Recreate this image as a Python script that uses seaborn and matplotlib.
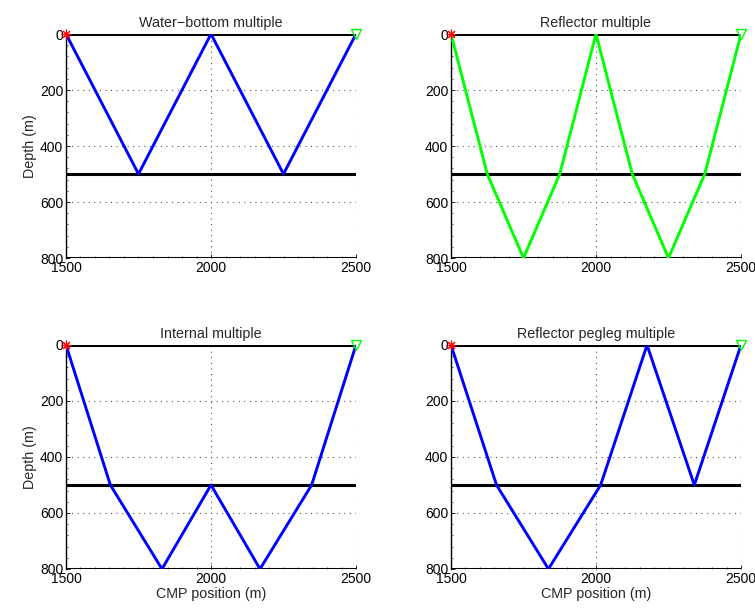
import matplotlib
matplotlib.use("Agg")
import matplotlib.pyplot as plt
import seaborn as sns
import pandas as pd
from matplotlib.ticker import MultipleLocator

titles = ["Water\u2212bottom multiple", "Reflector multiple",
          "Internal multiple", "Reflector pegleg multiple"]

wb_x = [1500, 1750, 2000, 2250, 2500]
wb_z = [0, 500, 0, 500, 0]

rm_x = [1500, 1625, 1750, 1875, 2000, 2125, 2250, 2375, 2500]
rm_z = [0, 500, 800, 500, 0, 500, 800, 500, 0]

im_x = [1500, 1653, 1831, 2000, 2169, 2347, 2500]
im_z = [0, 500, 800, 500, 800, 500, 0]

pl_x = [1500, 1657, 1836, 2016, 2176, 2339, 2500]
pl_z = [0, 500, 800, 500, 0, 500, 0]

ray_colors = ["#0000ff", "#00ff00", "#0000ff", "#0000ff"]
interfaces = [0, 500, 800]
source_x, receiver_x = 1500, 2500
xticks = [1500, 2000, 2500]
yticks = [0, 200, 400, 600, 800]

sns.set_style("white")
plt.rcParams["font.family"] = ["Liberation Sans", "DejaVu Sans"]

fig = plt.figure(figsize=(7.55, 6.1), dpi=100)
W, H = 755, 610
boxes = [(66, 34), (451, 34), (66, 345), (451, 345)]
aw, ah = 290, 224

rays = [(wb_x, wb_z), (rm_x, rm_z), (im_x, im_z), (pl_x, pl_z)]

for i, ((x0, y0), (rx, rz)) in enumerate(zip(boxes, rays)):
    ax = fig.add_axes([x0 / W, 1 - (y0 + ah) / H, aw / W, ah / H])
    ax.set_xlim(1500, 2500)
    ax.set_ylim(800, 0)
    ax.set_xticks(xticks)
    ax.set_yticks(yticks)
    ax.xaxis.set_minor_locator(MultipleLocator(50))
    ax.yaxis.set_minor_locator(MultipleLocator(40))
    ax.grid(True, which="major", linestyle=(0, (1, 4)), color="#555555", linewidth=0.8)
    for z in interfaces:
        df_i = pd.DataFrame({"x": [1500, 2500], "z": [z, z]})
        sns.lineplot(data=df_i, x="x", y="z", ax=ax, color="black", linewidth=2.2, sort=False, zorder=3)
    df = pd.DataFrame({"x": rx, "z": rz})
    sns.lineplot(data=df, x="x", y="z", ax=ax, color=ray_colors[i], linewidth=2.1, sort=False, zorder=4)
    ax.plot([source_x], [0], marker=(8, 2, 0), color="red", markersize=7, markeredgewidth=0.8,
            linestyle="none", zorder=5, clip_on=False)
    ax.plot([receiver_x], [0], marker="v", markerfacecolor="none", markeredgecolor="#00ff00",
            markersize=7, markeredgewidth=1.0, linestyle="none", zorder=5, clip_on=False)
    for s in ["top", "right", "bottom"]:
        ax.spines[s].set_visible(False)
    ax.spines["left"].set_color("black")
    ax.spines["left"].set_linewidth(1.0)
    ax.tick_params(axis="both", which="major", direction="in", length=3, width=0.6,
                   labelsize=10, pad=2, colors="black", left=True, bottom=True)
    ax.tick_params(axis="both", which="minor", direction="in", length=1.5, width=0.5,
                   left=True, bottom=True)
    ax.set_title(titles[i], fontsize=10.3, pad=5)
    ax.set_xlabel("CMP position (m)" if i >= 2 else "", fontsize=10.3, labelpad=1)
    ax.set_ylabel("Depth (m)" if i % 2 == 0 else "", fontsize=10.3, labelpad=2)

fig.savefig("out.png", dpi=100)
